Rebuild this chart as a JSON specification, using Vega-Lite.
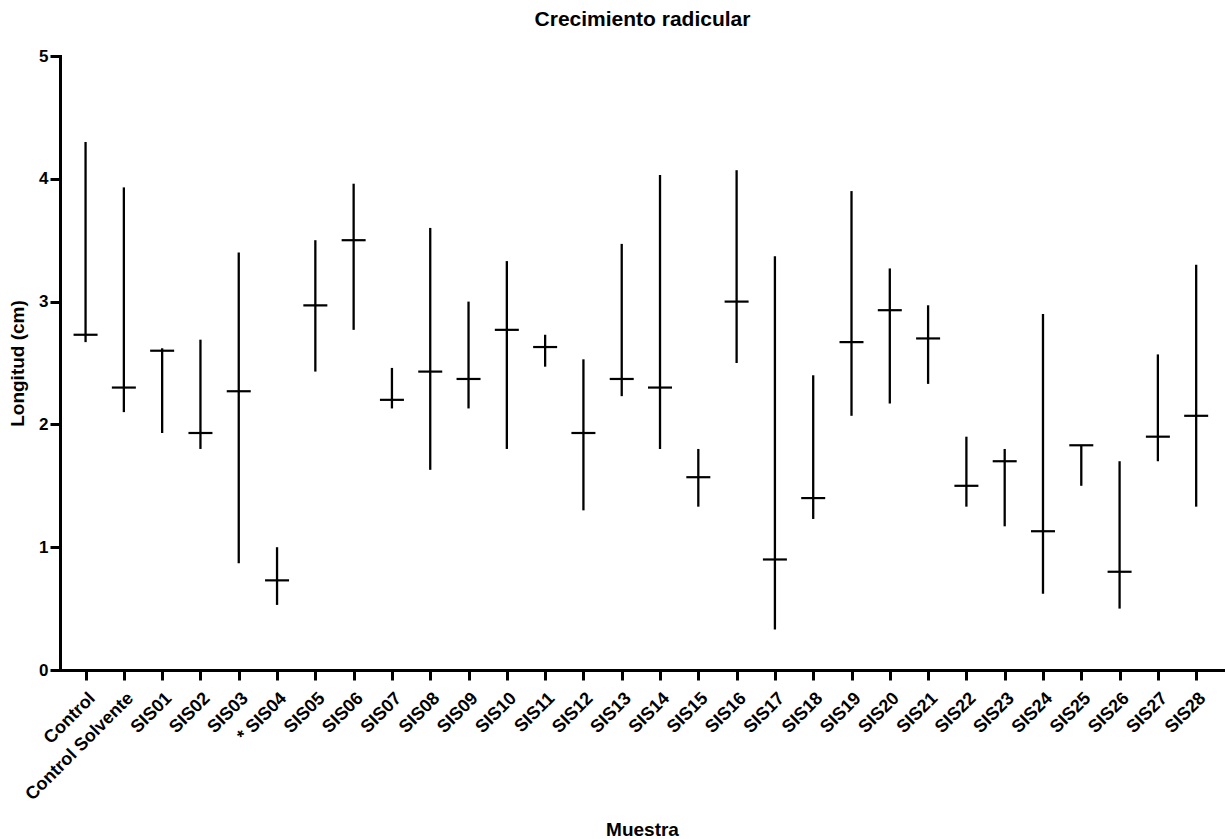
{
  "$schema": "https://vega.github.io/schema/vega-lite/v6.json",
  "autosize": {"type": "none"},
  "padding": {"left": 60, "top": 56, "right": 0, "bottom": 169},
  "width": 1165,
  "height": 614,
  "background": "white",
  "title": {
    "text": "Crecimiento radicular",
    "font": "Liberation Sans",
    "fontWeight": "bold",
    "fontSize": 21,
    "color": "black",
    "anchor": "middle",
    "offset": 17
  },
  "data": {
    "values": [
      {"muestra": "Control", "min": 2.67, "media": 2.73, "max": 4.30},
      {"muestra": "Control Solvente", "min": 2.10, "media": 2.30, "max": 3.93},
      {"muestra": "SIS01", "min": 1.93, "media": 2.60, "max": 2.62},
      {"muestra": "SIS02", "min": 1.80, "media": 1.93, "max": 2.69},
      {"muestra": "SIS03", "min": 0.87, "media": 2.27, "max": 3.40},
      {"muestra": "* SIS04", "min": 0.53, "media": 0.73, "max": 1.00},
      {"muestra": "SIS05", "min": 2.43, "media": 2.97, "max": 3.50},
      {"muestra": "SIS06", "min": 2.77, "media": 3.50, "max": 3.96},
      {"muestra": "SIS07", "min": 2.13, "media": 2.20, "max": 2.46},
      {"muestra": "SIS08", "min": 1.63, "media": 2.43, "max": 3.60},
      {"muestra": "SIS09", "min": 2.13, "media": 2.37, "max": 3.00},
      {"muestra": "SIS10", "min": 1.80, "media": 2.77, "max": 3.33},
      {"muestra": "SIS11", "min": 2.47, "media": 2.63, "max": 2.73},
      {"muestra": "SIS12", "min": 1.30, "media": 1.93, "max": 2.53},
      {"muestra": "SIS13", "min": 2.23, "media": 2.37, "max": 3.47},
      {"muestra": "SIS14", "min": 1.80, "media": 2.30, "max": 4.03},
      {"muestra": "SIS15", "min": 1.33, "media": 1.57, "max": 1.80},
      {"muestra": "SIS16", "min": 2.50, "media": 3.00, "max": 4.07},
      {"muestra": "SIS17", "min": 0.33, "media": 0.90, "max": 3.37},
      {"muestra": "SIS18", "min": 1.23, "media": 1.40, "max": 2.40},
      {"muestra": "SIS19", "min": 2.07, "media": 2.67, "max": 3.90},
      {"muestra": "SIS20", "min": 2.17, "media": 2.93, "max": 3.27},
      {"muestra": "SIS21", "min": 2.33, "media": 2.70, "max": 2.97},
      {"muestra": "SIS22", "min": 1.33, "media": 1.50, "max": 1.90},
      {"muestra": "SIS23", "min": 1.17, "media": 1.70, "max": 1.80},
      {"muestra": "SIS24", "min": 0.62, "media": 1.13, "max": 2.90},
      {"muestra": "SIS25", "min": 1.50, "media": 1.83, "max": 1.83},
      {"muestra": "SIS26", "min": 0.50, "media": 0.80, "max": 1.70},
      {"muestra": "SIS27", "min": 1.70, "media": 1.90, "max": 2.57},
      {"muestra": "SIS28", "min": 1.33, "media": 2.07, "max": 3.30}
    ]
  },
  "encoding": {
    "x": {
      "field": "muestra",
      "type": "nominal",
      "sort": null,
      "scale": {"type": "point", "padding": 0.71, "align": 0.47},
      "axis": {
        "title": "Muestra",
        "labelAngle": -45,
        "labelAlign": "right",
        "labelBaseline": "top",
        "labelFontSize": 18,
        "labelPadding": 9,
        "labelDx": -2,
        "titleX": 582,
        "titleY": 165,
        "titleAlign": "center",
        "titleBaseline": "alphabetic"
      }
    }
  },
  "layer": [
    {
      "mark": {"type": "rule", "color": "black", "strokeWidth": 2.3},
      "encoding": {
        "y": {
          "field": "min",
          "type": "quantitative",
          "scale": {"domain": [0, 5], "nice": false, "zero": true},
          "axis": {
            "title": "Longitud (cm)",
            "values": [0, 1, 2, 3, 4, 5],
            "format": "d",
            "labelFontSize": 17,
            "labelPadding": 2,
            "titleAngle": -90,
            "titleX": -37,
            "titleY": 307,
            "titleAlign": "center",
            "titleBaseline": "alphabetic"
          }
        },
        "y2": {"field": "max"}
      }
    },
    {
      "mark": {"type": "tick", "color": "black", "opacity": 1, "size": 24, "thickness": 2.2},
      "encoding": {
        "y": {"field": "media", "type": "quantitative", "title": "Longitud (cm)"}
      }
    }
  ],
  "config": {
    "view": {"stroke": null},
    "axis": {
      "grid": false,
      "domainColor": "black",
      "domainWidth": 3,
      "domainCap": "square",
      "tickColor": "black",
      "tickWidth": 3,
      "tickSize": 10,
      "labelColor": "black",
      "labelFont": "Liberation Sans",
      "labelFontWeight": "bold",
      "titleColor": "black",
      "titleFont": "Liberation Sans",
      "titleFontWeight": "bold",
      "titleFontSize": 19
    }
  }
}
